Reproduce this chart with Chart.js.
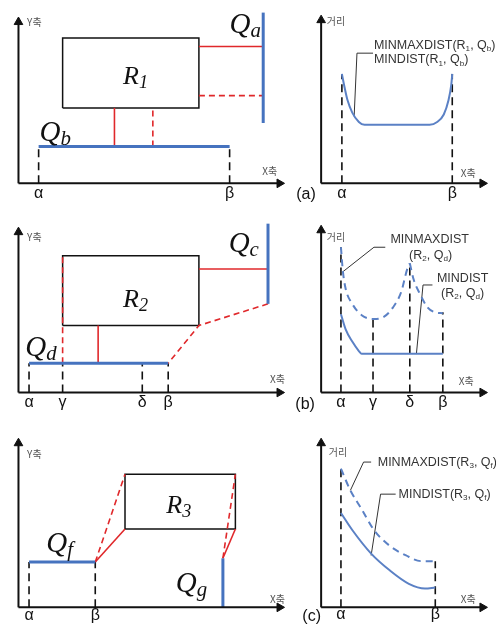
<!DOCTYPE html>
<html>
<head>
<meta charset="utf-8">
<script src="https://cdn.jsdelivr.net/npm/chart.js"></script>
<style>
  html, body { margin: 0; padding: 0; background: #fff; width: 496px; height: 636px; overflow: hidden; }
  body { position: relative; }
  canvas { position: absolute; }
</style>
</head>
<body>
<canvas id="aL"></canvas><canvas id="aR"></canvas>
<canvas id="bL"></canvas><canvas id="bR"></canvas>
<canvas id="cL"></canvas><canvas id="cR"></canvas>
<script>
// all values are measured from each panel's axis origin, y pointing up

// ---- (a) ----
const aTicks = ['α', 'β'];
const aLeftTickX = [21, 220];
const aLeftGuideTop = [39, 39];
const aR1 = [[46, 80], [188, 80], [188, 154], [46, 154], [46, 80]];
const aQa = [[255, 64], [255, 181]];
const aQb = [[21, 39], [220, 39]];
const aRedSolid = [[[188, 145], [255, 145]], [[100, 39], [100, 80]]];
const aRedDash = [[[188, 93], [255, 93]], [[140, 39], [140, 80]]];
const aRightTickX = [22, 139];
const aRightGuideTop = [116, 116];
const aDistX = [22, 25, 28, 33, 40, 46, 115, 123, 130, 135, 138, 139];
const aDistY = [116, 101, 88, 75, 65, 62, 62, 65, 73, 88, 105, 116];
const aLeader = [[55, 138], [38, 138], [35, 71]];

// ---- (b) ----
const bTicks = ['α', 'γ', 'δ', 'β'];
const bLeftTickX = [11, 46, 129, 156];
const bLeftGuideTop = [31, 31, 31, 31];
const bR2 = [[46, 71], [188, 71], [188, 145], [46, 145], [46, 71]];
const bQc = [[260, 94], [260, 179]];
const bQd = [[11, 31], [156, 31]];
const bRedSolid = [[[188, 131], [260, 131]], [[83, 31], [83, 71]]];
const bRedDash = [[[260, 94], [188, 71], [156, 31]], [[46, 31], [46, 145]]];
const bRightTickX = [21, 55, 94, 129];
const bRightGuideTop = [154, 78, 137, 85];
const bMaxX1 = [21, 23, 26, 33, 43, 55, 66, 76, 85, 91, 94];
const bMaxY1 = [154, 129, 110, 94, 82, 78, 80, 90, 107, 130, 137];
const bMaxX2 = [94, 98, 105, 113, 121, 129];
const bMaxY2 = [137, 120, 104, 90, 85, 84];
const bMinX = [21, 26, 33, 40, 43, 129];
const bMinY = [83, 67, 54, 44, 41, 41];
const bLeaderMax = [[68, 154], [56, 154], [23, 128]];
const bLeaderMin = [[118, 114], [108, 114], [101, 41]];

// ---- (c) ----
const cTicks = ['α', 'β'];
const cLeftTickX = [11, 80];
const cLeftGuideTop = [48, 48];
const cR3 = [[111, 83], [226, 83], [226, 141], [111, 141], [111, 83]];
const cQf = [[11, 48], [80, 48]];
const cQg = [[213, 0], [213, 52]];
const cRedSolid = [[[80, 48], [111, 83]], [[213, 52], [226, 83]]];
const cRedDash = [[[80, 48], [111, 141]], [[213, 52], [226, 141]]];
const cRightTickX = [21, 121];
const cRightGuideTop = [149, 49];
const cMaxX = [21, 31, 43, 56, 73, 90, 106, 121];
const cMaxY = [147, 124, 104, 82, 65, 55, 49, 49];
const cMinX = [21, 33, 53, 73, 93, 110, 121];
const cMinY = [100, 82, 57, 39, 25, 20, 21];
const cLeaderMax = [[53, 154], [45, 154], [31, 124]];
const cLeaderMin = [[79, 120], [63, 120], [53, 55]];

// ---- styles ----
const BLACK = '#111', RED = '#e0282b', BLUE = '#4673bf', CURVE = '#5b81c5', LEAD = '#333';
const SANS = '"Liberation Sans", Arial, sans-serif';
const SERIF = '"Liberation Serif", "Times New Roman", serif';
const STYLES = {
  tick:  { size: 16, family: SANS, color: '#111' },
  axis:  { size: 10, family: '"Noto Sans CJK KR", sans-serif', color: '#555' },
  note:  { size: 12.5, family: SANS, color: '#333', subScale: 0.65, subShift: 0.28 },
  sym:   { size: 29, style: 'italic', family: SERIF, color: '#111', subScale: 0.72, subShift: 0.14, base: 'alphabetic' },
  rect:  { size: 26, style: 'italic', family: SERIF, color: '#111', subScale: 0.7, subShift: 0.16, base: 'alphabetic' },
  panel: { size: 16, family: SANS, color: '#111' }
};

function line(pts, color, width, dash, order, smooth) {
  return {
    data: pts.map(p => ({ x: p[0], y: p[1] })),
    showLine: true, fill: false, pointRadius: 0,
    borderColor: color, borderWidth: width, borderDash: dash || [],
    cubicInterpolationMode: smooth ? 'monotone' : 'default', tension: 0,
    order: order, clip: false
  };
}
const zip = (xs, ys) => xs.map((x, i) => [x, ys[i]]);

function axes(xTip, yTip) {
  return [
    line([[0, 0], [0, yTip - 4]], BLACK, 2, null, 0),
    line([[0, 0], [xTip - 4, 0]], BLACK, 2, null, 0),
    { data: [{ x: 0, y: yTip - 5 }, { x: xTip - 5, y: 0 }], showLine: false,
      pointStyle: 'triangle', pointRadius: 5, pointRotation: [0, 90],
      pointBackgroundColor: BLACK, pointBorderColor: BLACK, pointBorderWidth: 1, order: 0, clip: false }
  ];
}
function guides(xs, tops) {
  return xs.map((x, i) => line([[x, 0], [x, tops[i]]], BLACK, 1.6, [8, 5], 4));
}
function tickTexts(labels, xs, y) {
  return labels.map((t, i) => ({ t, x: xs[i], y, s: 'tick', a: 'center' }));
}

function drawRich(ctx, str, px, py, st, align) {
  const parts = [];
  for (let i = 0; i < str.length; i++) {
    if (str[i] === '_') { parts.push({ t: str[i + 1], sub: true }); i++; }
    else if (parts.length && !parts[parts.length - 1].sub) parts[parts.length - 1].t += str[i];
    else parts.push({ t: str[i], sub: false });
  }
  const big = `${st.style || ''} ${st.size}px ${st.family}`;
  const small = `${st.style || ''} ${st.size * (st.subScale || 0.7)}px ${st.family}`;
  let w = 0;
  parts.forEach(p => { ctx.font = p.sub ? small : big; p.w = ctx.measureText(p.t).width; w += p.w; });
  let cx = align === 'center' ? px - w / 2 : align === 'right' ? px - w : px;
  ctx.fillStyle = st.color;
  ctx.textBaseline = st.base || 'middle';
  parts.forEach(p => {
    ctx.font = p.sub ? small : big;
    ctx.fillText(p.t, cx, py + (p.sub ? st.size * (st.subShift || 0.25) : 0));
    cx += p.w;
  });
}

const textPlugin = {
  id: 'texts',
  afterDatasetsDraw(chart, args, opts) {
    const { ctx, scales: { x, y } } = chart;
    ctx.save();
    (opts.items || []).forEach(it => {
      drawRich(ctx, it.t, x.getPixelForValue(it.x), y.getPixelForValue(it.y), STYLES[it.s], it.a || 'left');
    });
    ctx.restore();
  }
};

function panel(id, box, origin, datasets, texts) {
  const c = document.getElementById(id);
  c.width = box.w; c.height = box.h;
  c.style.left = box.x + 'px'; c.style.top = box.y + 'px';
  const ox = origin[0] - box.x, oy = origin[1] - box.y;
  new Chart(c, {
    type: 'scatter',
    data: { datasets },
    options: {
      responsive: false, animation: false, events: [],
      layout: { padding: 0 },
      plugins: { legend: { display: false }, tooltip: { enabled: false }, texts: { items: texts } },
      scales: {
        x: { type: 'linear', display: false, min: -ox, max: box.w - ox },
        y: { type: 'linear', display: false, min: oy - box.h, max: oy }
      }
    },
    plugins: [textPlugin]
  });
}

// ---------- (a) ----------
panel('aL', { x: 0, y: 0, w: 298, h: 212 }, [13, 188], [
  ...axes(277, 176),
  line(aR1, BLACK, 1.5, null, 3),
  ...guides(aLeftTickX, aLeftGuideTop),
  ...aRedSolid.map(s => line(s, RED, 1.6, null, 2)),
  ...aRedDash.map(s => line(s, RED, 1.6, [6, 4], 2)),
  line(aQa, BLUE, 3, null, 1),
  line(aQb, BLUE, 3, null, 1)
], [
  { t: 'Y축', x: 9, y: 171, s: 'axis' },
  { t: 'X축', x: 254, y: 13, s: 'axis' },
  ...tickTexts(aTicks, aLeftTickX, -11),
  { t: 'R_1', x: 109, y: 105, s: 'rect' },
  { t: 'Q_a', x: 220, y: 159, s: 'sym' },
  { t: 'Q_b', x: 22, y: 45, s: 'sym' }
]);

panel('aR', { x: 284, y: 0, w: 212, h: 212 }, [317, 188], [
  ...axes(176, 178),
  ...guides(aRightTickX, aRightGuideTop),
  line(zip(aDistX, aDistY), CURVE, 2, null, 1, true),
  line(aLeader, LEAD, 1, null, 1)
], [
  { t: '거리', x: 6, y: 172, s: 'axis' },
  { t: 'X축', x: 148, y: 11, s: 'axis' },
  ...tickTexts(aTicks, aRightTickX, -11),
  { t: '(a)', x: -16, y: -12, s: 'panel', a: 'center' },
  { t: 'MINMAXDIST(R_1, Q_b)', x: 56, y: 146, s: 'note' },
  { t: 'MINDIST(R_1, Q_b)', x: 56, y: 131, s: 'note' }
]);

// ---------- (b) ----------
panel('bL', { x: 0, y: 212, w: 298, h: 212 }, [13, 397], [
  ...axes(277, 175),
  line(bR2, BLACK, 1.5, null, 3),
  ...guides(bLeftTickX, bLeftGuideTop),
  ...bRedSolid.map(s => line(s, RED, 1.6, null, 2)),
  ...bRedDash.map(s => line(s, RED, 1.6, [6, 4], 2)),
  line(bQc, BLUE, 3, null, 1),
  line(bQd, BLUE, 3, null, 1)
], [
  { t: 'Y축', x: 9, y: 165, s: 'axis' },
  { t: 'X축', x: 262, y: 14, s: 'axis' },
  ...tickTexts(bTicks, bLeftTickX, -11),
  { t: 'R_2', x: 109, y: 91, s: 'rect' },
  { t: 'Q_c', x: 219, y: 149, s: 'sym' },
  { t: 'Q_d', x: 7, y: 39, s: 'sym' }
]);

panel('bR', { x: 284, y: 212, w: 212, h: 212 }, [317, 397], [
  ...axes(176, 177),
  ...guides(bRightTickX, bRightGuideTop),
  line(zip(bMaxX1, bMaxY1), CURVE, 2, [7, 5], 1, true),
  line(zip(bMaxX2, bMaxY2), CURVE, 2, [7, 5], 1, true),
  line(zip(bMinX, bMinY), CURVE, 2, null, 1, true),
  line(bLeaderMax, LEAD, 1, null, 1),
  line(bLeaderMin, LEAD, 1, null, 1)
], [
  { t: '거리', x: 6, y: 165, s: 'axis' },
  { t: 'X축', x: 146, y: 12, s: 'axis' },
  ...tickTexts(bTicks, bRightTickX, -11),
  { t: '(b)', x: -17, y: -13, s: 'panel', a: 'center' },
  { t: 'MINMAXDIST', x: 115, y: 162, s: 'note', a: 'center' },
  { t: '(R_2, Q_d)', x: 116, y: 145, s: 'note', a: 'center' },
  { t: 'MINDIST', x: 150, y: 121, s: 'note', a: 'center' },
  { t: '(R_2, Q_d)', x: 150, y: 105, s: 'note', a: 'center' }
]);

// ---------- (c) ----------
panel('cL', { x: 0, y: 424, w: 298, h: 212 }, [13, 612], [
  ...axes(277, 179),
  line(cR3, BLACK, 1.5, null, 3),
  ...guides(cLeftTickX, cLeftGuideTop),
  ...cRedSolid.map(s => line(s, RED, 1.6, null, 2)),
  ...cRedDash.map(s => line(s, RED, 1.6, [6, 4], 2)),
  line(cQf, BLUE, 3, null, 1),
  line(cQg, BLUE, 3, null, 1)
], [
  { t: 'Y축', x: 9, y: 162, s: 'axis' },
  { t: 'X축', x: 262, y: 9, s: 'axis' },
  ...tickTexts(cTicks, cLeftTickX, -9),
  { t: 'R_3', x: 154, y: 100, s: 'rect' },
  { t: 'Q_f', x: 29, y: 59, s: 'sym' },
  { t: 'Q_g', x: 164, y: 16, s: 'sym' }
]);

panel('cR', { x: 284, y: 424, w: 212, h: 212 }, [317, 612], [
  ...axes(176, 179),
  ...guides(cRightTickX, cRightGuideTop),
  line(zip(cMaxX, cMaxY), CURVE, 2, [7, 5], 1, true),
  line(zip(cMinX, cMinY), CURVE, 2, null, 1, true),
  line(cLeaderMax, LEAD, 1, null, 1),
  line(cLeaderMin, LEAD, 1, null, 1)
], [
  { t: '거리', x: 8, y: 164, s: 'axis' },
  { t: 'X축', x: 148, y: 9, s: 'axis' },
  ...tickTexts(cTicks, cRightTickX, -8),
  { t: '(c)', x: -10, y: -10, s: 'panel', a: 'center' },
  { t: 'MINMAXDIST(R_3, Q_f)', x: 60, y: 154, s: 'note' },
  { t: 'MINDIST(R_3, Q_f)', x: 82, y: 120, s: 'note' }
]);
</script>
</body>
</html>
